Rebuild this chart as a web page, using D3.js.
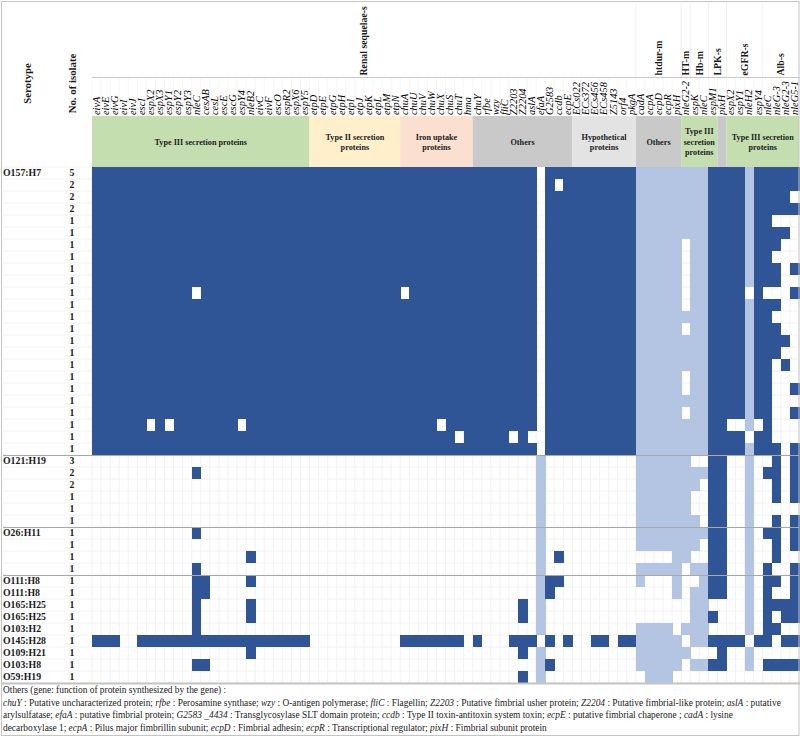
<!DOCTYPE html>
<html><head><meta charset="utf-8">
<script src="https://cdnjs.cloudflare.com/ajax/libs/d3/7.8.5/d3.min.js"></script>
<style>html,body{margin:0;padding:0;background:#fff}svg{display:block}text{font-family:"Liberation Serif",serif}</style>
</head><body><div id="c"></div>
<script>
const genes = ["eivA","eivE","eivG","eivI","eivJ","escI","espX2","espX3","espY1","espY2","espY3","nleC","cesAB","cesL","escE","escG","espY4","nleB2","eivC","eivF","escO","espR2","espX6","espY5",
"etpD","etpE","etpG","etpH","etpI","etpJ","etpK","etpL","etpM","etpN",
"chuA","chuU","chuV","chuW","chuX","chuS","chuT","hma",
"chuY","rfbe","wzy","fliC","Z2203","Z2204","aslA","efaA","G2583","ccdb","ecpE",
"ECs022","ECs372","ECs456","ECs458","Z5143","orf4","pkgA",
"cadA","ecpA","ecpD","ecpR","pixH",
"nleG2-2","espK","nleC",
"espM1","pixH",
"espX2","espY1","nleH2","espY4","nleC","nleG-3","nleG2-3","nleG5-1"];
const serotypes = ["O157:H7","","","","","","","","","","","","","","","","","","","","","","","",
"O121:H19","","","","","","O26:H11","","","","O111:H8","O111:H8","O165:H25","O165:H25","O103:H2","O145:H28","O109:H21","O103:H8","O59:H19"];
const isolates = [5,2,2,2,1,1,1,1,1,1,1,1,1,1,1,1,1,1,1,1,1,1,1,1,3,2,2,1,1,1,1,1,1,1,1,1,1,1,1,1,1,1,1];
// Genes missing from each O157:H7 row (every other gene is present)
const o157Absent = [[49],[49,51],[49,77],[49],[49,75,76,77],[49,77],[49,65,76,77],[49,65,75,76,77],[49,65,76],[49,65,76,77],
[11,34,49,65,72,74,75,76],[49,65,76,77],[49,75,76,77],[49,65,76,77],[49,77],[49,76,77],[49,75,77],[49,65,75,76,77],[49,65,75,76],[49,75,76,77],
[49,65,75,76],[6,8,16,38,49,70,71,73,75,76,77],[40,46,48,49,72,75,76,77],[49,76]];
// Genes present in each remaining row
const otherPresent = [
[49,60,61,62,63,64,65,68,69,72,75,77],
[11,49,60,61,62,63,64,65,66,67,68,69,72,74,75,77],
[49,60,61,62,63,64,65,66,68,69,72,75,77],
[49,60,61,62,63,64,65,68,69,72,75,77],
[49,60,61,62,63,64,65,68,69,72],
[49,60,61,62,63,64,65,66,68,69,72,75,77],
[11,49,60,61,62,63,64,65,66,67,68,69,72,74,75,77],
[49,60,61,62,63,64,65,66,68,69,72,75,77],
[17,49,51,64,65,68,69,72,75],
[11,49,60,61,62,63,64,66,67,68,69,72,74,77],
[11,12,17,49,50,51,60,64,67,68,69,72,74,75,77],
[11,12,49,50,64,66,67,68,69,72,74,77],
[11,17,47,49,66,67,72,74,75,76,77],
[11,17,47,49,66,67,68,72,74,76,77],
[11,49,60,61,62,63,65,66,67,72,74,75],
[0,1,2,5,6,7,8,9,10,11,12,13,14,15,16,17,18,19,20,21,22,23,34,35,36,37,38,39,40,42,46,47,48,50,52,55,56,58,59,60,61,62,63,64,66,67,68,69,70,71,73,74,76,77],
[17,47,49,60,61,62,63,64,65,69,72],
[11,12,49,50,60,61,62,63,64,66,67,68,69,72,74,75,76,77],
[47,49,61,62,63]];
const lightGenes = [49,60,61,62,63,64,65,66,67,72];
const functionGroups = [
 {lines:["Type III secretion proteins"],from:0,to:23,fill:"#c5deb0"},
 {lines:["Type II secretion","proteins"],from:24,to:33,fill:"#fff0cb"},
 {lines:["Iron uptake","proteins"],from:34,to:41,fill:"#fbe0d0"},
 {lines:["Others"],from:42,to:52,fill:"#c9c9c9"},
 {lines:["Hypothetical","proteins"],from:53,to:59,fill:"#e3e3e3"},
 {lines:["Others"],from:60,to:64,fill:"#c9c9c9"},
 {lines:["Type III","secretion","proteins"],from:65,to:68,fill:"#c5deb0"},
 {lines:[""],from:69,to:69,fill:"#c9c9c9"},
 {lines:["Type III secretion","proteins"],from:70,to:77,fill:"#c5deb0"}];
const outcomes = [
 {label:"Renal sequelae-s",from:0,to:59},{label:"htdur-m",from:60,to:64},{label:"HT-m",from:65,to:65},
 {label:"Hb-m",from:66,to:67},{label:"LPK-s",from:68,to:69},{label:"eGFR-s",from:70,to:73},{label:"Alb-s",from:74,to:77}];
const groupBreaks = [24,30,34];
const footnote = [
 [["Others (gene: function of protein synthesized by the gene) :",0]],
 [["chuY",1],[" : Putative uncharacterized protein; ",0],["rfbe",1],[" : Perosamine synthase; ",0],["wzy",1],[" : O-antigen polymerase; ",0],["fliC",1],[" : Flagellin; ",0],["Z2203",1],[" : Putative fimbrial usher protein; ",0],["Z2204",1],[" : Putative fimbrial-like protein; ",0],["aslA",1],[" : putative",0]],
 [["arylsulfatase; ",0],["efaA",1],[" : putative fimbrial protein; ",0],["G2583 _4434",1],[" : Transglycosylase SLT domain protein; ",0],["ccdb",1],[" : Type II toxin-antitoxin system toxin; ",0],["ecpE",1],[" : putative fimbrial chaperone ; ",0],["cadA",1],[" : lysine",0]],
 [["decarboxylase 1; ",0],["ecpA",1],[" : Pilus major fimbrillin subunit; ",0],["ecpD",1],[" : Fimbrial adhesin; ",0],["ecpR",1],[" : Transcriptional regulator; ",0],["pixH",1],[" : Fimbrial subunit protein",0]]];

const W=800,H=738, gridL=92, gridR=799, gridT=167, gridB=683;
const svg=d3.select("#c").append("svg").attr("width",W).attr("height",H);
const x=d3.scaleBand().domain(d3.range(genes.length)).range([gridL,gridR]);
const y=d3.scaleBand().domain(d3.range(isolates.length)).range([gridT,gridB]);
const ink="#1a1a1a", gridC="#f2f2f2", dark="#2f5597", light="#b4c5e4";

// row/column hairlines
const g=svg.append("g");
g.selectAll("line.h").data(d3.range(isolates.length+1)).join("line")
 .attr("x1",3).attr("x2",gridR).attr("y1",d=>y(0)+d*y.step()).attr("y2",d=>y(0)+d*y.step()).attr("stroke",gridC).attr("stroke-width",1);
g.selectAll("line.v").data(d3.range(genes.length+1)).join("line")
 .attr("x1",d=>gridL+d*x.step()).attr("x2",d=>gridL+d*x.step()).attr("y1",gridT).attr("y2",gridB).attr("stroke",gridC);
g.selectAll("line.hv").data(d3.range(genes.length+1)).join("line")
 .attr("x1",d=>gridL+d*x.step()).attr("x2",d=>gridL+d*x.step()).attr("y1",78).attr("y2",116).attr("stroke","#f6f6f6");

// cells
const cells=[];
o157Absent.forEach((a,r)=>genes.forEach((_,c)=>{if(!a.includes(c))cells.push({r,c});}));
otherPresent.forEach((a,i)=>a.forEach(c=>cells.push({r:i+o157Absent.length,c})));
svg.append("g").attr("shape-rendering","crispEdges").selectAll("rect").data(cells).join("rect")
 .attr("x",d=>x(d.c)).attr("y",d=>y(d.r)).attr("width",x.bandwidth()+.5).attr("height",y.bandwidth())
 .attr("fill",d=>lightGenes.includes(d.c)?light:dark);

// function group bands
const fg=svg.append("g");
fg.selectAll("rect").data(functionGroups).join("rect")
 .attr("x",d=>x(d.from)).attr("y",116).attr("height",gridT-116)
 .attr("width",d=>x(d.to)+x.bandwidth()-x(d.from)).attr("fill",d=>d.fill);
fg.selectAll("text").data(functionGroups).join("text")
 .attr("text-anchor","middle").attr("font-weight","bold").attr("font-size",8.2).attr("fill","#222")
 .attr("transform",d=>`translate(${(x(d.from)+x(d.to)+x.bandwidth())/2},${141.8-(d.lines.length-1)*5.1+2.8})`)
 .selectAll("tspan").data(d=>d.lines).join("tspan").attr("x",0).attr("dy",(d,i)=>i?10.2:0).text(d=>d);

// gene labels
const geneAxis=svg.append("g").attr("transform","translate(0,115)")
 .call(d3.axisTop(x).tickSize(0).tickPadding(0).tickFormat(i=>genes[i]));
geneAxis.select(".domain").remove();
geneAxis.selectAll("text").attr("transform","rotate(-90)").attr("x",0).attr("y",0).attr("dy","0.32em")
 .attr("text-anchor","start").attr("font-style","italic").attr("font-size",10.4)
 .style("font-family",'"Liberation Serif",serif').attr("fill","#000");

// outcome labels and header lines
svg.selectAll("text.out").data(outcomes).join("text").attr("class","out")
 .attr("transform",d=>`translate(${(x(d.from)+x(d.to)+x.bandwidth())/2+3.3},75.5) rotate(-90)`)
 .attr("font-weight","bold").attr("font-size",9.8).attr("fill",ink).text(d=>d.label);
svg.selectAll("line.ob").data(outcomes.slice(1)).join("line").attr("class","ob")
 .attr("x1",d=>x(d.from)).attr("x2",d=>x(d.from)).attr("y1",3).attr("y2",77).attr("stroke","#f0f0f0");
svg.append("line").attr("x1",gridL).attr("x2",W).attr("y1",77.5).attr("y2",77.5).attr("stroke","#c8c8c8");

// row labels
svg.append("g").selectAll("text").data(serotypes).join("text")
 .attr("x",3).attr("y",(d,i)=>y(i)+y.bandwidth()/2+3.4).attr("font-weight","bold").attr("font-size",9.8).attr("fill",ink).text(d=>d);
svg.append("g").selectAll("text").data(isolates).join("text")
 .attr("x",72).attr("y",(d,i)=>y(i)+y.bandwidth()/2+3.4).attr("text-anchor","middle").attr("font-weight","bold").attr("font-size",9.8).attr("fill",ink).text(d=>d);
svg.append("text").attr("transform","translate(30.5,83.5) rotate(-90)").attr("text-anchor","middle").attr("font-weight","bold").attr("font-size",10.8).attr("fill",ink).text("Serotype");
svg.append("text").attr("transform","translate(75.5,83.5) rotate(-90)").attr("text-anchor","middle").attr("font-weight","bold").attr("font-size",10.8).attr("fill",ink).text("No. of isolate");

// group separators and frame
svg.selectAll("line.br").data(groupBreaks).join("line").attr("class","br")
 .attr("x1",3).attr("x2",gridR).attr("y1",d=>y(d)+.5).attr("y2",d=>y(d)+.5).attr("stroke","#a8a8a8");
svg.append("line").attr("x1",2).attr("x2",W).attr("y1",gridB+.5).attr("y2",gridB+.5).attr("stroke","#c4c4c4").attr("stroke-width",2);
svg.append("rect").attr("x",1.5).attr("y",1.5).attr("width",W-2.5).attr("height",H-4).attr("fill","none").attr("stroke","#c4c4c4");

// footnote
const fn=svg.append("g");
fn.selectAll("text").data(footnote).join("text").attr("x",3).attr("y",(d,i)=>693.3+i*12.5).attr("font-size",9.4).attr("fill","#222")
 .selectAll("tspan").data(d=>d).join("tspan").attr("font-style",d=>d[1]?"italic":"normal").text(d=>d[0]);
</script></body></html>
